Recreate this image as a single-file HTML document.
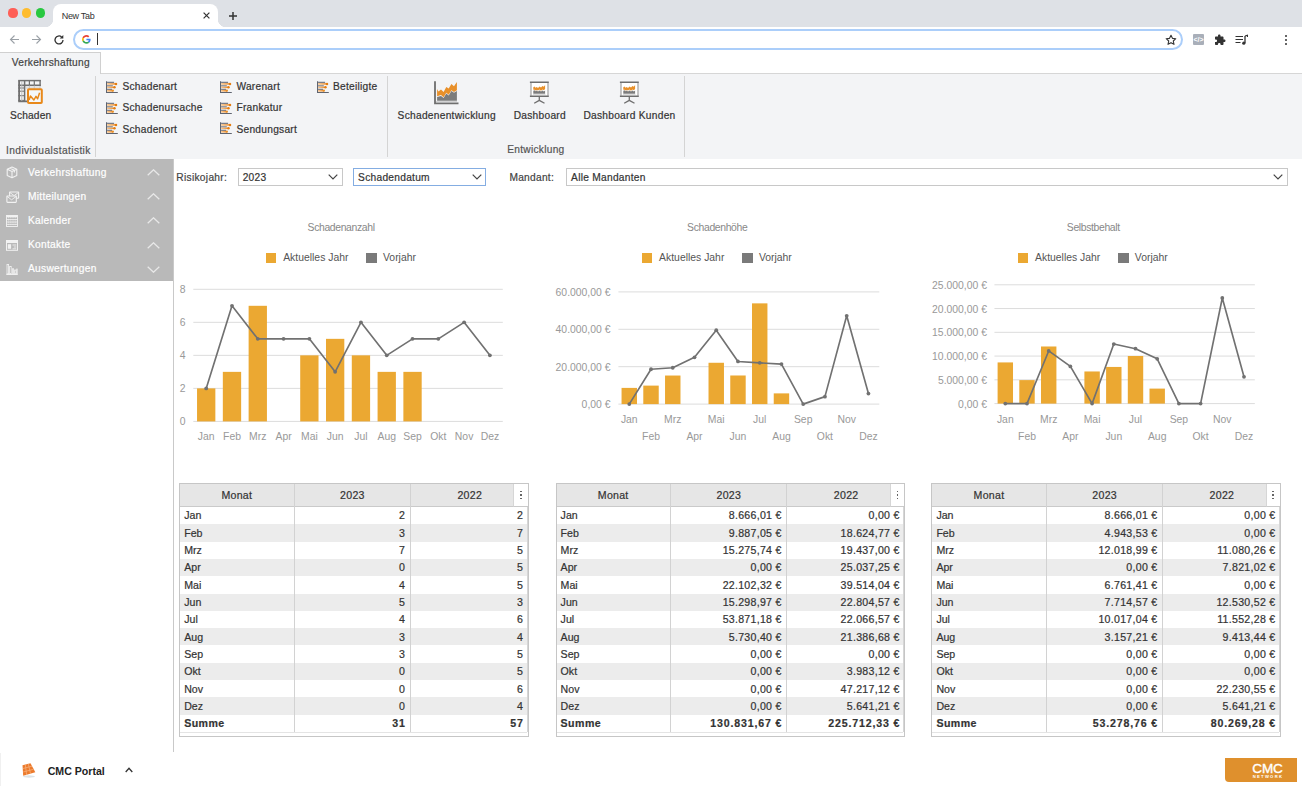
<!DOCTYPE html>
<html><head><meta charset="utf-8"><title>CMC Portal</title>
<style>
*{box-sizing:border-box;margin:0;padding:0}
html,body{width:1302px;height:788px;overflow:hidden;background:#fff;font-family:"Liberation Sans", sans-serif;}
.a{position:absolute;white-space:nowrap}
.ui{font-size:10.2px;letter-spacing:0.27px;color:#333;-webkit-text-stroke:0.2px currentColor}
</style></head>
<body>
<div class="a" style="left:0;top:0;width:1302px;height:27px;background:#dee1e6"></div>
<div class="a" style="left:8.4px;top:8.4px;width:9.2px;height:9.2px;border-radius:50%;background:#fe5f57"></div>
<div class="a" style="left:22.1px;top:8.4px;width:9.2px;height:9.2px;border-radius:50%;background:#febc2e"></div>
<div class="a" style="left:35.8px;top:8.4px;width:9.2px;height:9.2px;border-radius:50%;background:#28c840"></div>
<div class="a" style="left:53px;top:4px;width:165px;height:24px;background:#fff;border-radius:8px 8px 0 0"></div>
<div class="a" style="left:45px;top:19px;width:8px;height:8px;background:radial-gradient(circle at 0 0,#dee1e6 8px,#fff 8.5px)"></div>
<div class="a" style="left:218px;top:19px;width:8px;height:8px;background:radial-gradient(circle at 100% 0,#dee1e6 8px,#fff 8.5px)"></div>
<div class="a" style="left:61.7px;top:9.6px;font-size:9px;letter-spacing:-0.3px;line-height:12px;color:#333">New Tab</div>
<svg class="a" style="left:203.2px;top:12.3px" width="7" height="7" viewBox="0 0 7 7"><path d="M0.6 0.6L6.4 6.4M6.4 0.6L0.6 6.4" stroke="#333" stroke-width="1.2"/></svg>
<svg class="a" style="left:228.6px;top:11.8px" width="8" height="8" viewBox="0 0 8 8"><path d="M4 0V8M0 4H8" stroke="#333" stroke-width="1.5"/></svg>
<div class="a" style="left:0;top:27px;width:1302px;height:25px;background:#fff"></div>
<div class="a" style="left:0;top:51.5px;width:1302px;height:1px;background:#ececec"></div>
<svg class="a" style="left:9px;top:34px" width="11" height="11" viewBox="0 0 11 11"><path d="M10 5.5H1.5M5.5 1.5L1.5 5.5L5.5 9.5" stroke="#9aa0a6" stroke-width="1.1" fill="none"/></svg>
<svg class="a" style="left:31px;top:34px" width="11" height="11" viewBox="0 0 11 11"><path d="M1 5.5H9.5M5.5 1.5L9.5 5.5L5.5 9.5" stroke="#9aa0a6" stroke-width="1.1" fill="none"/></svg>
<svg class="a" style="left:53px;top:33.5px" width="12" height="12" viewBox="0 0 12 12"><path d="M10 6A4 4 0 1 1 8.6 2.9" stroke="#333" stroke-width="1.3" fill="none"/><path d="M10.3 1V4.6H6.7Z" fill="#333"/></svg>
<div class="a" style="left:73.2px;top:29.3px;width:1110.3px;height:20.6px;border:2px solid #abcefa;border-radius:10.5px;background:#fff"></div>
<svg class="a" style="left:81.8px;top:35px" width="8.8" height="8.8" viewBox="0 0 48 48">
<path fill="#EA4335" d="M24 9.5c3.54 0 6.71 1.22 9.21 3.6l6.85-6.85C35.9 2.38 30.47 0 24 0 14.62 0 6.51 5.38 2.56 13.22l7.98 6.19C12.43 13.72 17.74 9.5 24 9.5z"/>
<path fill="#4285F4" d="M46.98 24.55c0-1.57-.15-3.09-.38-4.55H24v9.02h12.94c-.58 2.96-2.26 5.48-4.78 7.18l7.73 6c4.51-4.18 7.09-10.36 7.09-17.65z"/>
<path fill="#FBBC05" d="M10.53 28.59c-.48-1.45-.76-2.99-.76-4.59s.27-3.14.76-4.59l-7.98-6.19C.92 16.46 0 20.12 0 24c0 3.88.92 7.54 2.56 10.78l7.97-6.19z"/>
<path fill="#34A853" d="M24 48c6.48 0 11.93-2.13 15.89-5.81l-7.73-6c-2.15 1.45-4.92 2.3-8.16 2.3-6.26 0-11.57-4.22-13.47-9.91l-7.98 6.19C6.51 42.62 14.62 48 24 48z"/>
</svg>
<div class="a" style="left:97px;top:33px;width:1.2px;height:11.7px;background:#333"></div>
<svg class="a" style="left:1165px;top:34px" width="12" height="12" viewBox="0 0 24 24"><path d="M12 2.5l2.9 6.2 6.7.7-5 4.6 1.4 6.7L12 17.3 6 20.7l1.4-6.7-5-4.6 6.7-.7z" fill="none" stroke="#333" stroke-width="2.2" stroke-linejoin="round"/></svg>
<div class="a" style="left:1192.8px;top:34px;width:11px;height:11px;background:#a9afb9;border-radius:1px"></div>
<div class="a" style="left:1193px;top:34.5px;width:11px;font-size:7px;line-height:10px;color:#fff;text-align:center;font-weight:bold">&lt;/&gt;</div>
<svg class="a" style="left:1214px;top:33.5px" width="12" height="12" viewBox="0 0 24 24"><path fill="#333" d="M20.5 11H19V7c0-1.1-.9-2-2-2h-4V3.5C13 2.12 11.88 1 10.5 1S8 2.12 8 3.5V5H4c-1.1 0-2 .9-2 2v3.8h1.5c1.49 0 2.7 1.21 2.7 2.7s-1.21 2.7-2.7 2.7H2V20c0 1.1.9 2 2 2h3.8v-1.5c0-1.49 1.21-2.7 2.7-2.7 1.49 0 2.7 1.21 2.7 2.7V22H17c1.1 0 2-.9 2-2v-4h1.5c1.38 0 2.5-1.12 2.5-2.5S21.88 11 20.5 11z"/></svg>
<svg class="a" style="left:1235px;top:33.5px" width="13" height="12" viewBox="0 0 13 12"><path d="M0.5 2.5H8M0.5 5.5H8M0.5 8.5H5.5" stroke="#333" stroke-width="1.2"/><path d="M10 2V9" stroke="#333" stroke-width="1.3"/><circle cx="8.8" cy="9.2" r="1.6" fill="#333"/><path d="M10 2L12.5 1.2V3" stroke="#333" stroke-width="1.2" fill="none"/></svg>
<div class="a" style="left:1284.8px;top:34.5px;width:2.2px;height:2.2px;border-radius:50%;background:#333"></div>
<div class="a" style="left:1284.8px;top:38.5px;width:2.2px;height:2.2px;border-radius:50%;background:#333"></div>
<div class="a" style="left:1284.8px;top:42.5px;width:2.2px;height:2.2px;border-radius:50%;background:#333"></div>
<div class="a" style="left:0;top:52px;width:1302px;height:21px;background:#fff"></div>
<div class="a" style="left:0;top:73px;width:1302px;height:85.5px;background:#f3f4f6;border-top:1px solid #d6d6d6"></div>
<div class="a" style="left:0;top:51.8px;width:101px;height:22px;background:#f3f4f6;border-right:1px solid #d0d0d0;border-top:1px solid #d0d0d0"></div>
<div class="a ui" style="left:11.7px;top:56.2px;line-height:14px;color:#444">Verkehrshaftung</div>
<div class="a" style="left:95px;top:76px;width:1px;height:81px;background:#d4d4d4"></div>
<div class="a" style="left:387px;top:76px;width:1px;height:81px;background:#d4d4d4"></div>
<div class="a" style="left:684px;top:76px;width:1px;height:81px;background:#d4d4d4"></div>
<svg class="a" style="left:14px;top:76px" width="34" height="32" viewBox="0 0 34 32">
<g stroke="#707070" fill="none">
<path d="M5.1 4.4V25.3H13" stroke-width="1.8"/>
<path d="M4.2 4.6H26.8" stroke-width="1.5"/>
<path d="M4.2 9.3H26.8" stroke-width="1.6"/>
<path d="M26.1 4V10" stroke-width="1.4"/>
<path d="M10.6 4V25.3" stroke-width="1.5"/>
<path d="M15.4 4V9.5M20.3 4V9.5" stroke-width="1.2"/>
<path d="M4.2 12H11M4.2 15.2H11M4.2 19.7H11M4.2 24.4H11" stroke-width="1"/>
</g>
<path d="M7.8 5V25" stroke="#bbb" stroke-width="0.9"/>
<path d="M11 12H26M15.4 9.5V13M20.3 9.5V13M26.1 10V13" stroke="#c4c4c4" stroke-width="0.8"/>
<rect x="14" y="13.2" width="13.8" height="13.8" fill="#f4f8fb" stroke="#e8891b" stroke-width="2" rx="0.8"/>
<path d="M15.2 24L16.4 19.9L19.9 24L22 20.3L23.6 22.8L25.6 16.7" fill="none" stroke="#e8891b" stroke-width="1.5" stroke-linejoin="round"/>
</svg>
<div class="a ui" style="left:10px;top:109px;line-height:14px;letter-spacing:0.15px;color:#333">Schaden</div>
<div class="a ui" style="left:6px;top:144.3px;line-height:14px;letter-spacing:0.41px;color:#555">Individualstatistik</div>
<svg class="a" style="left:105.0px;top:79.96000000000001px" width="14" height="14" viewBox="0 0 14 14">
<defs><linearGradient id="og" x1="0" x2="1"><stop offset="0" stop-color="#f7c58d"/><stop offset="1" stop-color="#e88a2a"/></linearGradient></defs>
<path d="M1.55 1.3V12.55H12.8" fill="none" stroke="#5f6470" stroke-width="1.1"/>
<rect x="2.1" y="1.8" width="7" height="1" fill="#5a6170"/>
<rect x="2.1" y="5.4" width="5.7" height="1" fill="#5a6170"/>
<rect x="2.1" y="8.8" width="4.9" height="1" fill="#5a6170"/>
<rect x="2.1" y="3.1" width="8.9" height="1.6" fill="url(#og)"/><circle cx="11" cy="3.9" r="1.25" fill="#e37d12"/>
<rect x="2.1" y="6.6" width="7.4" height="1.5" fill="url(#og)"/><circle cx="9.5" cy="7.3" r="1.2" fill="#e37d12"/>
<rect x="2.1" y="9.9" width="5.9" height="1.7" fill="url(#og)"/><circle cx="7.9" cy="10.7" r="1.1" fill="#e8902a"/>
</svg>
<div class="a ui" style="left:122.4px;top:80.30px;line-height:14px;color:#333">Schadenart</div>
<svg class="a" style="left:105.0px;top:100.62px" width="14" height="14" viewBox="0 0 14 14">
<defs><linearGradient id="og" x1="0" x2="1"><stop offset="0" stop-color="#f7c58d"/><stop offset="1" stop-color="#e88a2a"/></linearGradient></defs>
<path d="M1.55 1.3V12.55H12.8" fill="none" stroke="#5f6470" stroke-width="1.1"/>
<rect x="2.1" y="1.8" width="7" height="1" fill="#5a6170"/>
<rect x="2.1" y="5.4" width="5.7" height="1" fill="#5a6170"/>
<rect x="2.1" y="8.8" width="4.9" height="1" fill="#5a6170"/>
<rect x="2.1" y="3.1" width="8.9" height="1.6" fill="url(#og)"/><circle cx="11" cy="3.9" r="1.25" fill="#e37d12"/>
<rect x="2.1" y="6.6" width="7.4" height="1.5" fill="url(#og)"/><circle cx="9.5" cy="7.3" r="1.2" fill="#e37d12"/>
<rect x="2.1" y="9.9" width="5.9" height="1.7" fill="url(#og)"/><circle cx="7.9" cy="10.7" r="1.1" fill="#e8902a"/>
</svg>
<div class="a ui" style="left:122.4px;top:101.10px;line-height:14px;color:#333">Schadenursache</div>
<svg class="a" style="left:105.0px;top:121.46px" width="14" height="14" viewBox="0 0 14 14">
<defs><linearGradient id="og" x1="0" x2="1"><stop offset="0" stop-color="#f7c58d"/><stop offset="1" stop-color="#e88a2a"/></linearGradient></defs>
<path d="M1.55 1.3V12.55H12.8" fill="none" stroke="#5f6470" stroke-width="1.1"/>
<rect x="2.1" y="1.8" width="7" height="1" fill="#5a6170"/>
<rect x="2.1" y="5.4" width="5.7" height="1" fill="#5a6170"/>
<rect x="2.1" y="8.8" width="4.9" height="1" fill="#5a6170"/>
<rect x="2.1" y="3.1" width="8.9" height="1.6" fill="url(#og)"/><circle cx="11" cy="3.9" r="1.25" fill="#e37d12"/>
<rect x="2.1" y="6.6" width="7.4" height="1.5" fill="url(#og)"/><circle cx="9.5" cy="7.3" r="1.2" fill="#e37d12"/>
<rect x="2.1" y="9.9" width="5.9" height="1.7" fill="url(#og)"/><circle cx="7.9" cy="10.7" r="1.1" fill="#e8902a"/>
</svg>
<div class="a ui" style="left:122.4px;top:122.50px;line-height:14px;color:#333">Schadenort</div>
<svg class="a" style="left:219.2px;top:79.96000000000001px" width="14" height="14" viewBox="0 0 14 14">
<defs><linearGradient id="og" x1="0" x2="1"><stop offset="0" stop-color="#f7c58d"/><stop offset="1" stop-color="#e88a2a"/></linearGradient></defs>
<path d="M1.55 1.3V12.55H12.8" fill="none" stroke="#5f6470" stroke-width="1.1"/>
<rect x="2.1" y="1.8" width="7" height="1" fill="#5a6170"/>
<rect x="2.1" y="5.4" width="5.7" height="1" fill="#5a6170"/>
<rect x="2.1" y="8.8" width="4.9" height="1" fill="#5a6170"/>
<rect x="2.1" y="3.1" width="8.9" height="1.6" fill="url(#og)"/><circle cx="11" cy="3.9" r="1.25" fill="#e37d12"/>
<rect x="2.1" y="6.6" width="7.4" height="1.5" fill="url(#og)"/><circle cx="9.5" cy="7.3" r="1.2" fill="#e37d12"/>
<rect x="2.1" y="9.9" width="5.9" height="1.7" fill="url(#og)"/><circle cx="7.9" cy="10.7" r="1.1" fill="#e8902a"/>
</svg>
<div class="a ui" style="left:236.4px;top:80.30px;line-height:14px;color:#333">Warenart</div>
<svg class="a" style="left:219.2px;top:100.62px" width="14" height="14" viewBox="0 0 14 14">
<defs><linearGradient id="og" x1="0" x2="1"><stop offset="0" stop-color="#f7c58d"/><stop offset="1" stop-color="#e88a2a"/></linearGradient></defs>
<path d="M1.55 1.3V12.55H12.8" fill="none" stroke="#5f6470" stroke-width="1.1"/>
<rect x="2.1" y="1.8" width="7" height="1" fill="#5a6170"/>
<rect x="2.1" y="5.4" width="5.7" height="1" fill="#5a6170"/>
<rect x="2.1" y="8.8" width="4.9" height="1" fill="#5a6170"/>
<rect x="2.1" y="3.1" width="8.9" height="1.6" fill="url(#og)"/><circle cx="11" cy="3.9" r="1.25" fill="#e37d12"/>
<rect x="2.1" y="6.6" width="7.4" height="1.5" fill="url(#og)"/><circle cx="9.5" cy="7.3" r="1.2" fill="#e37d12"/>
<rect x="2.1" y="9.9" width="5.9" height="1.7" fill="url(#og)"/><circle cx="7.9" cy="10.7" r="1.1" fill="#e8902a"/>
</svg>
<div class="a ui" style="left:236.4px;top:101.10px;line-height:14px;color:#333">Frankatur</div>
<svg class="a" style="left:219.2px;top:121.46px" width="14" height="14" viewBox="0 0 14 14">
<defs><linearGradient id="og" x1="0" x2="1"><stop offset="0" stop-color="#f7c58d"/><stop offset="1" stop-color="#e88a2a"/></linearGradient></defs>
<path d="M1.55 1.3V12.55H12.8" fill="none" stroke="#5f6470" stroke-width="1.1"/>
<rect x="2.1" y="1.8" width="7" height="1" fill="#5a6170"/>
<rect x="2.1" y="5.4" width="5.7" height="1" fill="#5a6170"/>
<rect x="2.1" y="8.8" width="4.9" height="1" fill="#5a6170"/>
<rect x="2.1" y="3.1" width="8.9" height="1.6" fill="url(#og)"/><circle cx="11" cy="3.9" r="1.25" fill="#e37d12"/>
<rect x="2.1" y="6.6" width="7.4" height="1.5" fill="url(#og)"/><circle cx="9.5" cy="7.3" r="1.2" fill="#e37d12"/>
<rect x="2.1" y="9.9" width="5.9" height="1.7" fill="url(#og)"/><circle cx="7.9" cy="10.7" r="1.1" fill="#e8902a"/>
</svg>
<div class="a ui" style="left:236.4px;top:122.50px;line-height:14px;color:#333">Sendungsart</div>
<svg class="a" style="left:315.5px;top:79.96000000000001px" width="14" height="14" viewBox="0 0 14 14">
<defs><linearGradient id="og" x1="0" x2="1"><stop offset="0" stop-color="#f7c58d"/><stop offset="1" stop-color="#e88a2a"/></linearGradient></defs>
<path d="M1.55 1.3V12.55H12.8" fill="none" stroke="#5f6470" stroke-width="1.1"/>
<rect x="2.1" y="1.8" width="7" height="1" fill="#5a6170"/>
<rect x="2.1" y="5.4" width="5.7" height="1" fill="#5a6170"/>
<rect x="2.1" y="8.8" width="4.9" height="1" fill="#5a6170"/>
<rect x="2.1" y="3.1" width="8.9" height="1.6" fill="url(#og)"/><circle cx="11" cy="3.9" r="1.25" fill="#e37d12"/>
<rect x="2.1" y="6.6" width="7.4" height="1.5" fill="url(#og)"/><circle cx="9.5" cy="7.3" r="1.2" fill="#e37d12"/>
<rect x="2.1" y="9.9" width="5.9" height="1.7" fill="url(#og)"/><circle cx="7.9" cy="10.7" r="1.1" fill="#e8902a"/>
</svg>
<div class="a ui" style="left:332.9px;top:80.30px;line-height:14px;color:#333">Beteiligte</div>
<svg class="a" style="left:428px;top:76px" width="40" height="32" viewBox="0 0 40 32">
<path d="M9.1 24.8V13L10.4 15.4L13 13.6L15.6 15.9L18.3 11L20.7 12.4L23.4 8.1L26 10.2L28.9 5.9V14.2L26 15.9L23.4 14.2L20.7 18.7L18.3 16.7L15.6 21.2L13 19.1L9.1 20.3Z" fill="#e8902a"/>
<path d="M9.1 24.8V21.1L13 19.9L15.6 22L18.3 17.5L20.7 19.5L23.4 15L26 16.7L28.9 15V24.8Z" fill="#7c7c7c"/>
<path d="M7 5.3V27.3H30.5" fill="none" stroke="#6e6e6e" stroke-width="1.8"/>
<path d="M8 25.6H29" stroke="#cfcfcf" stroke-width="1"/>
</svg>
<svg class="a" style="left:524px;top:76px" width="32" height="32" viewBox="0 0 32 32">
<rect x="7" y="6.5" width="17" height="13.2" fill="#fff"/>
<path d="M7 6.6V19.8M24 6.6V19.8" stroke="#a9a9a9" stroke-width="1.3"/>
<path d="M5.9 6.3H24.8M5.9 20.2H24.8" stroke="#6e6e6e" stroke-width="1.4"/>
<path d="M9.3 13.8V11.2L10.5 10.6L11.5 11.8L12.8 10.9L14 12L15.5 10.4L17 11.6L18.5 10L19.8 10.8L21.1 8.9V13L19.8 14.2L18.5 13.4L17 14.8L15.5 13.6L14 14.6L12.8 13.9L11.5 14.5L10.5 13.8Z" fill="#e8902a"/>
<path d="M9.3 17.7V14.8L10.5 14.2L11.5 15.2L12.8 14.6L14 15.4L15.5 14.4L17 15.5L18.5 14.6L19.8 15.6L21.1 14.5V17.7Z" fill="#7c7c7c"/>
<path d="M9 18.4H21.5" stroke="#d0d0d0" stroke-width="0.8"/>
<path d="M15.3 21V24.6M15.3 24.4L10.2 27.3M15.3 24.4L20.5 27.3" stroke="#6e6e6e" stroke-width="1.3" fill="none"/>
</svg>
<svg class="a" style="left:613.5px;top:76px" width="32" height="32" viewBox="0 0 32 32">
<rect x="7" y="6.5" width="17" height="13.2" fill="#fff"/>
<path d="M7 6.6V19.8M24 6.6V19.8" stroke="#a9a9a9" stroke-width="1.3"/>
<path d="M5.9 6.3H24.8M5.9 20.2H24.8" stroke="#6e6e6e" stroke-width="1.4"/>
<path d="M9.3 13.8V11.2L10.5 10.6L11.5 11.8L12.8 10.9L14 12L15.5 10.4L17 11.6L18.5 10L19.8 10.8L21.1 8.9V13L19.8 14.2L18.5 13.4L17 14.8L15.5 13.6L14 14.6L12.8 13.9L11.5 14.5L10.5 13.8Z" fill="#e8902a"/>
<path d="M9.3 17.7V14.8L10.5 14.2L11.5 15.2L12.8 14.6L14 15.4L15.5 14.4L17 15.5L18.5 14.6L19.8 15.6L21.1 14.5V17.7Z" fill="#7c7c7c"/>
<path d="M9 18.4H21.5" stroke="#d0d0d0" stroke-width="0.8"/>
<path d="M15.3 21V24.6M15.3 24.4L10.2 27.3M15.3 24.4L20.5 27.3" stroke="#6e6e6e" stroke-width="1.3" fill="none"/>
</svg>
<div class="a ui" style="left:397.6px;top:109px;line-height:14px;color:#333">Schadenentwicklung</div>
<div class="a ui" style="left:513.7px;top:109px;line-height:14px;color:#333">Dashboard</div>
<div class="a ui" style="left:583.4px;top:109px;line-height:14px;color:#333">Dashboard Kunden</div>
<div class="a ui" style="left:507.2px;top:143.2px;line-height:14px;color:#555">Entwicklung</div>
<div class="a" style="left:0;top:158.7px;width:173.5px;height:122.2px;background:#b9b9b9"></div>
<div class="a" style="left:173px;top:158.7px;width:1px;height:593px;background:#c9c9c9"></div>
<div class="a ui" style="left:27.9px;top:165.6px;line-height:14px;color:#fff;letter-spacing:0.31px">Verkehrshaftung</div>
<svg class="a" style="left:147px;top:168.7px" width="13" height="7" viewBox="0 0 13 7"><path d="M0.7 6.3L6.5 0.8L12.3 6.3" fill="none" stroke="#e8e8e8" stroke-width="1.3"/></svg>
<div class="a ui" style="left:27.9px;top:190.0px;line-height:14px;color:#fff;letter-spacing:0.31px">Mitteilungen</div>
<svg class="a" style="left:147px;top:193.1px" width="13" height="7" viewBox="0 0 13 7"><path d="M0.7 6.3L6.5 0.8L12.3 6.3" fill="none" stroke="#e8e8e8" stroke-width="1.3"/></svg>
<div class="a ui" style="left:27.9px;top:214.1px;line-height:14px;color:#fff;letter-spacing:0.31px">Kalender</div>
<svg class="a" style="left:147px;top:217.2px" width="13" height="7" viewBox="0 0 13 7"><path d="M0.7 6.3L6.5 0.8L12.3 6.3" fill="none" stroke="#e8e8e8" stroke-width="1.3"/></svg>
<div class="a ui" style="left:27.9px;top:238.4px;line-height:14px;color:#fff;letter-spacing:0.31px">Kontakte</div>
<svg class="a" style="left:147px;top:241.5px" width="13" height="7" viewBox="0 0 13 7"><path d="M0.7 6.3L6.5 0.8L12.3 6.3" fill="none" stroke="#e8e8e8" stroke-width="1.3"/></svg>
<div class="a ui" style="left:27.9px;top:262.4px;line-height:14px;color:#fff;letter-spacing:0.31px">Auswertungen</div>
<svg class="a" style="left:147px;top:265.5px" width="13" height="7" viewBox="0 0 13 7"><path d="M0.7 0.7L6.5 6.2L12.3 0.7" fill="none" stroke="#e8e8e8" stroke-width="1.3"/></svg>
<svg class="a" style="left:6px;top:166px" width="12" height="13" viewBox="0 0 12 13"><path d="M6 1L10.8 3.2V9.6L6 11.8L1.2 9.6V3.2Z M1.2 3.2L6 5.4L10.8 3.2 M6 5.4V11.8 M3.6 2.1L8.4 4.3V6.5" fill="none" stroke="#f2f2f2" stroke-width="1.1" stroke-linejoin="round"/></svg>
<svg class="a" style="left:5.5px;top:190.5px" width="14" height="12" viewBox="0 0 14 12"><rect x="3.6" y="1" width="9" height="6.3" rx="0.6" fill="none" stroke="#f2f2f2" stroke-width="1.1"/><path d="M3.6 1.3L8.1 4.6L12.6 1.3" fill="none" stroke="#f2f2f2" stroke-width="0.9"/><rect x="0.9" y="5" width="9.4" height="6.4" rx="0.6" fill="#b9b9b9" stroke="#f2f2f2" stroke-width="1.1"/><path d="M0.9 5.3L5.6 8.8L10.3 5.3" fill="none" stroke="#f2f2f2" stroke-width="0.9"/></svg>
<svg class="a" style="left:6.3px;top:215px" width="12" height="12" viewBox="0 0 12 12"><rect x="0.5" y="0.5" width="11" height="11" fill="none" stroke="#f2f2f2" stroke-width="0.9"/><rect x="0.5" y="0.3" width="11" height="2" fill="#f2f2f2"/><path d="M0.5 4.6H11.5M0.5 7H11.5M0.5 9.3H11.5" stroke="#f2f2f2" stroke-width="0.9"/><path d="M2.6 2V11.5M4.8 2V11.5M7 2V11.5M9.2 2V11.5" stroke="#f2f2f2" stroke-width="0.6" stroke-dasharray="1.3 1"/></svg>
<svg class="a" style="left:6px;top:240px" width="12" height="11" viewBox="0 0 12 11"><rect x="0.5" y="0.5" width="11" height="9.8" fill="none" stroke="#f2f2f2" stroke-width="1"/><rect x="0.5" y="0.5" width="11" height="2.5" fill="#f2f2f2"/><rect x="1.8" y="4.2" width="3.3" height="4.6" fill="#f2f2f2"/><path d="M6.5 5H10.3M7.8 7H10.3M6.5 8.8H10.3" stroke="#f2f2f2" stroke-width="0.9"/></svg>
<svg class="a" style="left:6px;top:263px" width="12" height="12" viewBox="0 0 12 12"><path d="M0.3 11.4H11.8" stroke="#f2f2f2" stroke-width="1.1"/><rect x="1" y="1.4" width="1.6" height="9.6" fill="none" stroke="#f2f2f2" stroke-width="0.8"/><rect x="3.6" y="3.5" width="1.6" height="7.5" fill="none" stroke="#f2f2f2" stroke-width="0.8"/><rect x="6.2" y="5.2" width="1.6" height="5.8" fill="#f2f2f2"/><rect x="8.6" y="7" width="1.4" height="4" fill="none" stroke="#f2f2f2" stroke-width="0.8"/><rect x="10.3" y="5.6" width="1.3" height="5.4" fill="#f2f2f2"/></svg>
<div class="a ui" style="left:176.3px;top:171.1px;line-height:14px;color:#444;letter-spacing:0.3px">Risikojahr:</div>
<div class="a" style="left:237.9px;top:168.4px;width:104.99999999999997px;height:17.2px;border:1px solid #c8c8c8;background:#fff"></div><div class="a ui" style="left:242.70000000000002px;top:171.1px;line-height:14px;color:#333">2023</div><svg class="a" style="left:328.4px;top:174px" width="10" height="6" viewBox="0 0 10 6"><path d="M0.7 0.7L5 5L9.3 0.7" fill="none" stroke="#444" stroke-width="1.2"/></svg>
<div class="a" style="left:353.3px;top:168.4px;width:132.8px;height:17.2px;border:1px solid #84ade2;background:#fff"></div><div class="a ui" style="left:358.1px;top:171.1px;line-height:14px;color:#333">Schadendatum</div><svg class="a" style="left:471.6px;top:174px" width="10" height="6" viewBox="0 0 10 6"><path d="M0.7 0.7L5 5L9.3 0.7" fill="none" stroke="#444" stroke-width="1.2"/></svg>
<div class="a ui" style="left:509.4px;top:171px;line-height:14px;color:#444">Mandant:</div>
<div class="a" style="left:566.3px;top:168.4px;width:721.5px;height:17.2px;border:1px solid #c8c8c8;background:#fff"></div><div class="a ui" style="left:571.0999999999999px;top:171.1px;line-height:14px;color:#333">Alle Mandanten</div><svg class="a" style="left:1273.3px;top:174px" width="10" height="6" viewBox="0 0 10 6"><path d="M0.7 0.7L5 5L9.3 0.7" fill="none" stroke="#444" stroke-width="1.2"/></svg>
<div class="a" style="left:241.10000000000002px;top:222px;width:200px;text-align:center;font-size:10.4px;line-height:12px;color:#888;letter-spacing:-0.35px">Schadenanzahl</div>
<div class="a" style="left:265.9px;top:252.9px;width:10px;height:10px;background:#eba832"></div>
<div class="a" style="left:283.2px;top:252.3px;font-size:10.4px;line-height:12px;color:#555">Aktuelles Jahr</div>
<div class="a" style="left:366.4px;top:252.9px;width:10.5px;height:10px;background:#7a7a7a"></div>
<div class="a" style="left:383.0px;top:252.3px;font-size:10.4px;line-height:12px;color:#555">Vorjahr</div>
<div class="a" style="left:35.5px;top:415.60px;width:150px;text-align:right;font-size:10.4px;line-height:12px;color:#999">0</div>
<div class="a" style="left:35.5px;top:382.57px;width:150px;text-align:right;font-size:10.4px;line-height:12px;color:#999">2</div>
<div class="a" style="left:35.5px;top:349.55px;width:150px;text-align:right;font-size:10.4px;line-height:12px;color:#999">4</div>
<div class="a" style="left:35.5px;top:316.52px;width:150px;text-align:right;font-size:10.4px;line-height:12px;color:#999">6</div>
<div class="a" style="left:35.5px;top:283.50px;width:150px;text-align:right;font-size:10.4px;line-height:12px;color:#999">8</div>
<svg class="a" style="left:0;top:0" width="1302" height="788">
<line x1="193.3" y1="421.40" x2="502.8" y2="421.40" stroke="#dcdcdc" stroke-width="1"/>
<line x1="193.3" y1="388.38" x2="502.8" y2="388.38" stroke="#dcdcdc" stroke-width="1"/>
<line x1="193.3" y1="355.35" x2="502.8" y2="355.35" stroke="#dcdcdc" stroke-width="1"/>
<line x1="193.3" y1="322.32" x2="502.8" y2="322.32" stroke="#dcdcdc" stroke-width="1"/>
<line x1="193.3" y1="289.30" x2="502.8" y2="289.30" stroke="#dcdcdc" stroke-width="1"/>
<rect x="197.04" y="388.38" width="18.31" height="33.02" fill="#eba832"/>
<rect x="222.83" y="371.86" width="18.31" height="49.54" fill="#eba832"/>
<rect x="248.62" y="305.81" width="18.31" height="115.59" fill="#eba832"/>
<rect x="300.21" y="355.35" width="18.31" height="66.05" fill="#eba832"/>
<rect x="326.00" y="338.84" width="18.31" height="82.56" fill="#eba832"/>
<rect x="351.79" y="355.35" width="18.31" height="66.05" fill="#eba832"/>
<rect x="377.58" y="371.86" width="18.31" height="49.54" fill="#eba832"/>
<rect x="403.37" y="371.86" width="18.31" height="49.54" fill="#eba832"/>
<polyline points="206.20,388.38 231.99,305.81 257.78,338.84 283.57,338.84 309.36,338.84 335.15,371.86 360.95,322.32 386.74,355.35 412.53,338.84 438.32,338.84 464.11,322.32 489.90,355.35" fill="none" stroke="#717171" stroke-width="1.65" stroke-linejoin="round"/>
<circle cx="206.20" cy="388.38" r="1.9" fill="#717171"/>
<circle cx="231.99" cy="305.81" r="1.9" fill="#717171"/>
<circle cx="257.78" cy="338.84" r="1.9" fill="#717171"/>
<circle cx="283.57" cy="338.84" r="1.9" fill="#717171"/>
<circle cx="309.36" cy="338.84" r="1.9" fill="#717171"/>
<circle cx="335.15" cy="371.86" r="1.9" fill="#717171"/>
<circle cx="360.95" cy="322.32" r="1.9" fill="#717171"/>
<circle cx="386.74" cy="355.35" r="1.9" fill="#717171"/>
<circle cx="412.53" cy="338.84" r="1.9" fill="#717171"/>
<circle cx="438.32" cy="338.84" r="1.9" fill="#717171"/>
<circle cx="464.11" cy="322.32" r="1.9" fill="#717171"/>
<circle cx="489.90" cy="355.35" r="1.9" fill="#717171"/>
</svg>
<div class="a" style="left:176.20px;top:431.2px;width:60px;text-align:center;font-size:10.4px;line-height:12px;color:#999">Jan</div>
<div class="a" style="left:201.99px;top:431.2px;width:60px;text-align:center;font-size:10.4px;line-height:12px;color:#999">Feb</div>
<div class="a" style="left:227.78px;top:431.2px;width:60px;text-align:center;font-size:10.4px;line-height:12px;color:#999">Mrz</div>
<div class="a" style="left:253.57px;top:431.2px;width:60px;text-align:center;font-size:10.4px;line-height:12px;color:#999">Apr</div>
<div class="a" style="left:279.36px;top:431.2px;width:60px;text-align:center;font-size:10.4px;line-height:12px;color:#999">Mai</div>
<div class="a" style="left:305.15px;top:431.2px;width:60px;text-align:center;font-size:10.4px;line-height:12px;color:#999">Jun</div>
<div class="a" style="left:330.95px;top:431.2px;width:60px;text-align:center;font-size:10.4px;line-height:12px;color:#999">Jul</div>
<div class="a" style="left:356.74px;top:431.2px;width:60px;text-align:center;font-size:10.4px;line-height:12px;color:#999">Aug</div>
<div class="a" style="left:382.53px;top:431.2px;width:60px;text-align:center;font-size:10.4px;line-height:12px;color:#999">Sep</div>
<div class="a" style="left:408.32px;top:431.2px;width:60px;text-align:center;font-size:10.4px;line-height:12px;color:#999">Okt</div>
<div class="a" style="left:434.11px;top:431.2px;width:60px;text-align:center;font-size:10.4px;line-height:12px;color:#999">Nov</div>
<div class="a" style="left:459.90px;top:431.2px;width:60px;text-align:center;font-size:10.4px;line-height:12px;color:#999">Dez</div>
<div class="a" style="left:617.25px;top:222px;width:200px;text-align:center;font-size:10.4px;line-height:12px;color:#888;letter-spacing:-0.35px">Schadenhöhe</div>
<div class="a" style="left:641.8px;top:252.9px;width:10px;height:10px;background:#eba832"></div>
<div class="a" style="left:659.0999999999999px;top:252.3px;font-size:10.4px;line-height:12px;color:#555">Aktuelles Jahr</div>
<div class="a" style="left:742.3px;top:252.9px;width:10.5px;height:10px;background:#7a7a7a"></div>
<div class="a" style="left:758.9px;top:252.3px;font-size:10.4px;line-height:12px;color:#555">Vorjahr</div>
<div class="a" style="left:460.5px;top:399.10px;width:150px;text-align:right;font-size:10.4px;line-height:12px;color:#999">0,00 €</div>
<div class="a" style="left:460.5px;top:361.70px;width:150px;text-align:right;font-size:10.4px;line-height:12px;color:#999">20.000,00 €</div>
<div class="a" style="left:460.5px;top:324.30px;width:150px;text-align:right;font-size:10.4px;line-height:12px;color:#999">40.000,00 €</div>
<div class="a" style="left:460.5px;top:286.90px;width:150px;text-align:right;font-size:10.4px;line-height:12px;color:#999">60.000,00 €</div>
<svg class="a" style="left:0;top:0" width="1302" height="788">
<line x1="618.4" y1="404.10" x2="879.3" y2="404.10" stroke="#dcdcdc" stroke-width="1"/>
<line x1="618.4" y1="366.70" x2="879.3" y2="366.70" stroke="#dcdcdc" stroke-width="1"/>
<line x1="618.4" y1="329.30" x2="879.3" y2="329.30" stroke="#dcdcdc" stroke-width="1"/>
<line x1="618.4" y1="291.90" x2="879.3" y2="291.90" stroke="#dcdcdc" stroke-width="1"/>
<rect x="621.55" y="387.89" width="15.44" height="16.21" fill="#eba832"/>
<rect x="643.29" y="385.61" width="15.44" height="18.49" fill="#eba832"/>
<rect x="665.04" y="375.53" width="15.44" height="28.57" fill="#eba832"/>
<rect x="708.52" y="362.77" width="15.44" height="41.33" fill="#eba832"/>
<rect x="730.26" y="375.49" width="15.44" height="28.61" fill="#eba832"/>
<rect x="752.00" y="303.36" width="15.44" height="100.74" fill="#eba832"/>
<rect x="773.74" y="393.38" width="15.44" height="10.72" fill="#eba832"/>
<polyline points="629.27,404.10 651.01,369.27 672.75,367.75 694.50,357.28 716.24,330.21 737.98,361.46 759.72,362.84 781.46,364.11 803.20,404.10 824.95,396.65 846.69,315.80 868.43,393.55" fill="none" stroke="#717171" stroke-width="1.65" stroke-linejoin="round"/>
<circle cx="629.27" cy="404.10" r="1.9" fill="#717171"/>
<circle cx="651.01" cy="369.27" r="1.9" fill="#717171"/>
<circle cx="672.75" cy="367.75" r="1.9" fill="#717171"/>
<circle cx="694.50" cy="357.28" r="1.9" fill="#717171"/>
<circle cx="716.24" cy="330.21" r="1.9" fill="#717171"/>
<circle cx="737.98" cy="361.46" r="1.9" fill="#717171"/>
<circle cx="759.72" cy="362.84" r="1.9" fill="#717171"/>
<circle cx="781.46" cy="364.11" r="1.9" fill="#717171"/>
<circle cx="803.20" cy="404.10" r="1.9" fill="#717171"/>
<circle cx="824.95" cy="396.65" r="1.9" fill="#717171"/>
<circle cx="846.69" cy="315.80" r="1.9" fill="#717171"/>
<circle cx="868.43" cy="393.55" r="1.9" fill="#717171"/>
</svg>
<div class="a" style="left:599.27px;top:413.9px;width:60px;text-align:center;font-size:10.4px;line-height:12px;color:#999">Jan</div>
<div class="a" style="left:621.01px;top:431.0px;width:60px;text-align:center;font-size:10.4px;line-height:12px;color:#999">Feb</div>
<div class="a" style="left:642.75px;top:413.9px;width:60px;text-align:center;font-size:10.4px;line-height:12px;color:#999">Mrz</div>
<div class="a" style="left:664.50px;top:431.0px;width:60px;text-align:center;font-size:10.4px;line-height:12px;color:#999">Apr</div>
<div class="a" style="left:686.24px;top:413.9px;width:60px;text-align:center;font-size:10.4px;line-height:12px;color:#999">Mai</div>
<div class="a" style="left:707.98px;top:431.0px;width:60px;text-align:center;font-size:10.4px;line-height:12px;color:#999">Jun</div>
<div class="a" style="left:729.72px;top:413.9px;width:60px;text-align:center;font-size:10.4px;line-height:12px;color:#999">Jul</div>
<div class="a" style="left:751.46px;top:431.0px;width:60px;text-align:center;font-size:10.4px;line-height:12px;color:#999">Aug</div>
<div class="a" style="left:773.20px;top:413.9px;width:60px;text-align:center;font-size:10.4px;line-height:12px;color:#999">Sep</div>
<div class="a" style="left:794.95px;top:431.0px;width:60px;text-align:center;font-size:10.4px;line-height:12px;color:#999">Okt</div>
<div class="a" style="left:816.69px;top:413.9px;width:60px;text-align:center;font-size:10.4px;line-height:12px;color:#999">Nov</div>
<div class="a" style="left:838.43px;top:431.0px;width:60px;text-align:center;font-size:10.4px;line-height:12px;color:#999">Dez</div>
<div class="a" style="left:993.3px;top:222px;width:200px;text-align:center;font-size:10.4px;line-height:12px;color:#888;letter-spacing:-0.35px">Selbstbehalt</div>
<div class="a" style="left:1017.7px;top:252.9px;width:10px;height:10px;background:#eba832"></div>
<div class="a" style="left:1035.0px;top:252.3px;font-size:10.4px;line-height:12px;color:#555">Aktuelles Jahr</div>
<div class="a" style="left:1118.2px;top:252.9px;width:10.5px;height:10px;background:#7a7a7a"></div>
<div class="a" style="left:1134.8px;top:252.3px;font-size:10.4px;line-height:12px;color:#555">Vorjahr</div>
<div class="a" style="left:837px;top:398.60px;width:150px;text-align:right;font-size:10.4px;line-height:12px;color:#999">0,00 €</div>
<div class="a" style="left:837px;top:374.84px;width:150px;text-align:right;font-size:10.4px;line-height:12px;color:#999">5.000,00 €</div>
<div class="a" style="left:837px;top:351.08px;width:150px;text-align:right;font-size:10.4px;line-height:12px;color:#999">10.000,00 €</div>
<div class="a" style="left:837px;top:327.32px;width:150px;text-align:right;font-size:10.4px;line-height:12px;color:#999">15.000,00 €</div>
<div class="a" style="left:837px;top:303.56px;width:150px;text-align:right;font-size:10.4px;line-height:12px;color:#999">20.000,00 €</div>
<div class="a" style="left:837px;top:279.80px;width:150px;text-align:right;font-size:10.4px;line-height:12px;color:#999">25.000,00 €</div>
<svg class="a" style="left:0;top:0" width="1302" height="788">
<line x1="994.45" y1="403.60" x2="1254.85" y2="403.60" stroke="#dcdcdc" stroke-width="1"/>
<line x1="994.45" y1="379.84" x2="1254.85" y2="379.84" stroke="#dcdcdc" stroke-width="1"/>
<line x1="994.45" y1="356.08" x2="1254.85" y2="356.08" stroke="#dcdcdc" stroke-width="1"/>
<line x1="994.45" y1="332.32" x2="1254.85" y2="332.32" stroke="#dcdcdc" stroke-width="1"/>
<line x1="994.45" y1="308.56" x2="1254.85" y2="308.56" stroke="#dcdcdc" stroke-width="1"/>
<line x1="994.45" y1="284.80" x2="1254.85" y2="284.80" stroke="#dcdcdc" stroke-width="1"/>
<rect x="997.60" y="362.42" width="15.41" height="41.18" fill="#eba832"/>
<rect x="1019.30" y="380.11" width="15.41" height="23.49" fill="#eba832"/>
<rect x="1041.00" y="346.49" width="15.41" height="57.11" fill="#eba832"/>
<rect x="1084.40" y="371.47" width="15.41" height="32.13" fill="#eba832"/>
<rect x="1106.10" y="366.94" width="15.41" height="36.66" fill="#eba832"/>
<rect x="1127.80" y="356.00" width="15.41" height="47.60" fill="#eba832"/>
<rect x="1149.50" y="388.60" width="15.41" height="15.00" fill="#eba832"/>
<polyline points="1005.30,403.60 1027.00,403.60 1048.70,350.95 1070.40,366.43 1092.10,403.60 1113.80,344.05 1135.50,348.70 1157.20,358.87 1178.90,403.60 1200.60,403.60 1222.30,297.96 1244.00,376.79" fill="none" stroke="#717171" stroke-width="1.65" stroke-linejoin="round"/>
<circle cx="1005.30" cy="403.60" r="1.9" fill="#717171"/>
<circle cx="1027.00" cy="403.60" r="1.9" fill="#717171"/>
<circle cx="1048.70" cy="350.95" r="1.9" fill="#717171"/>
<circle cx="1070.40" cy="366.43" r="1.9" fill="#717171"/>
<circle cx="1092.10" cy="403.60" r="1.9" fill="#717171"/>
<circle cx="1113.80" cy="344.05" r="1.9" fill="#717171"/>
<circle cx="1135.50" cy="348.70" r="1.9" fill="#717171"/>
<circle cx="1157.20" cy="358.87" r="1.9" fill="#717171"/>
<circle cx="1178.90" cy="403.60" r="1.9" fill="#717171"/>
<circle cx="1200.60" cy="403.60" r="1.9" fill="#717171"/>
<circle cx="1222.30" cy="297.96" r="1.9" fill="#717171"/>
<circle cx="1244.00" cy="376.79" r="1.9" fill="#717171"/>
</svg>
<div class="a" style="left:975.30px;top:413.9px;width:60px;text-align:center;font-size:10.4px;line-height:12px;color:#999">Jan</div>
<div class="a" style="left:997.00px;top:431.0px;width:60px;text-align:center;font-size:10.4px;line-height:12px;color:#999">Feb</div>
<div class="a" style="left:1018.70px;top:413.9px;width:60px;text-align:center;font-size:10.4px;line-height:12px;color:#999">Mrz</div>
<div class="a" style="left:1040.40px;top:431.0px;width:60px;text-align:center;font-size:10.4px;line-height:12px;color:#999">Apr</div>
<div class="a" style="left:1062.10px;top:413.9px;width:60px;text-align:center;font-size:10.4px;line-height:12px;color:#999">Mai</div>
<div class="a" style="left:1083.80px;top:431.0px;width:60px;text-align:center;font-size:10.4px;line-height:12px;color:#999">Jun</div>
<div class="a" style="left:1105.50px;top:413.9px;width:60px;text-align:center;font-size:10.4px;line-height:12px;color:#999">Jul</div>
<div class="a" style="left:1127.20px;top:431.0px;width:60px;text-align:center;font-size:10.4px;line-height:12px;color:#999">Aug</div>
<div class="a" style="left:1148.90px;top:413.9px;width:60px;text-align:center;font-size:10.4px;line-height:12px;color:#999">Sep</div>
<div class="a" style="left:1170.60px;top:431.0px;width:60px;text-align:center;font-size:10.4px;line-height:12px;color:#999">Okt</div>
<div class="a" style="left:1192.30px;top:413.9px;width:60px;text-align:center;font-size:10.4px;line-height:12px;color:#999">Nov</div>
<div class="a" style="left:1214.00px;top:431.0px;width:60px;text-align:center;font-size:10.4px;line-height:12px;color:#999">Dez</div>
<div class="a" style="left:179.2px;top:483.2px;width:349.8px;height:253.59999999999997px;border:1px solid #c6c6c6;background:#fff"></div>
<div class="a" style="left:180.2px;top:484.2px;width:333.2px;height:22.55000000000001px;background:#e6e6e6;border-bottom:1px solid #cacaca"></div>
<div class="a" style="left:513.4px;top:484.2px;width:14.600000000000023px;height:22.55000000000001px;background:#fff;border-left:1px solid #d6d6d6;border-bottom:1px solid #cacaca"></div>
<div class="a" style="left:520.1999999999999px;top:491.00px;width:1.6px;height:1.3px;background:#666"></div>
<div class="a" style="left:520.1999999999999px;top:494.30px;width:1.6px;height:1.3px;background:#666"></div>
<div class="a" style="left:520.1999999999999px;top:497.60px;width:1.6px;height:1.3px;background:#666"></div>
<div class="a ui" style="left:179.2px;top:488.2px;width:115.19999999999999px;text-align:center;font-size:10.6px;line-height:14px;color:#333">Monat</div>
<div class="a ui" style="left:294.4px;top:488.2px;width:116.10000000000002px;text-align:center;font-size:10.6px;line-height:14px;color:#333">2023</div>
<div class="a ui" style="left:410.5px;top:488.2px;width:118.5px;text-align:center;font-size:10.6px;line-height:14px;color:#333">2022</div>
<div class="a ui" style="left:184.2px;top:508.45px;font-size:10.6px;line-height:14px;color:#333;letter-spacing:0px;">Jan</div>
<div class="a ui" style="left:294.4px;top:508.45px;width:110.88px;text-align:right;font-size:10.6px;line-height:14px;color:#333;letter-spacing:0.28px;">2</div>
<div class="a ui" style="left:410.5px;top:508.45px;width:112.78px;text-align:right;font-size:10.6px;line-height:14px;color:#333;letter-spacing:0.28px;">2</div>
<div class="a" style="left:180.2px;top:524.31px;width:346.8px;height:17.31px;background:#ececec"></div>
<div class="a ui" style="left:184.2px;top:525.76px;font-size:10.6px;line-height:14px;color:#333;letter-spacing:0px;">Feb</div>
<div class="a ui" style="left:294.4px;top:525.76px;width:110.88px;text-align:right;font-size:10.6px;line-height:14px;color:#333;letter-spacing:0.28px;">3</div>
<div class="a ui" style="left:410.5px;top:525.76px;width:112.78px;text-align:right;font-size:10.6px;line-height:14px;color:#333;letter-spacing:0.28px;">7</div>
<div class="a ui" style="left:184.2px;top:543.07px;font-size:10.6px;line-height:14px;color:#333;letter-spacing:0px;">Mrz</div>
<div class="a ui" style="left:294.4px;top:543.07px;width:110.88px;text-align:right;font-size:10.6px;line-height:14px;color:#333;letter-spacing:0.28px;">7</div>
<div class="a ui" style="left:410.5px;top:543.07px;width:112.78px;text-align:right;font-size:10.6px;line-height:14px;color:#333;letter-spacing:0.28px;">5</div>
<div class="a" style="left:180.2px;top:558.93px;width:346.8px;height:17.31px;background:#ececec"></div>
<div class="a ui" style="left:184.2px;top:560.38px;font-size:10.6px;line-height:14px;color:#333;letter-spacing:0px;">Apr</div>
<div class="a ui" style="left:294.4px;top:560.38px;width:110.88px;text-align:right;font-size:10.6px;line-height:14px;color:#333;letter-spacing:0.28px;">0</div>
<div class="a ui" style="left:410.5px;top:560.38px;width:112.78px;text-align:right;font-size:10.6px;line-height:14px;color:#333;letter-spacing:0.28px;">5</div>
<div class="a ui" style="left:184.2px;top:577.69px;font-size:10.6px;line-height:14px;color:#333;letter-spacing:0px;">Mai</div>
<div class="a ui" style="left:294.4px;top:577.69px;width:110.88px;text-align:right;font-size:10.6px;line-height:14px;color:#333;letter-spacing:0.28px;">4</div>
<div class="a ui" style="left:410.5px;top:577.69px;width:112.78px;text-align:right;font-size:10.6px;line-height:14px;color:#333;letter-spacing:0.28px;">5</div>
<div class="a" style="left:180.2px;top:593.55px;width:346.8px;height:17.31px;background:#ececec"></div>
<div class="a ui" style="left:184.2px;top:595.00px;font-size:10.6px;line-height:14px;color:#333;letter-spacing:0px;">Jun</div>
<div class="a ui" style="left:294.4px;top:595.00px;width:110.88px;text-align:right;font-size:10.6px;line-height:14px;color:#333;letter-spacing:0.28px;">5</div>
<div class="a ui" style="left:410.5px;top:595.00px;width:112.78px;text-align:right;font-size:10.6px;line-height:14px;color:#333;letter-spacing:0.28px;">3</div>
<div class="a ui" style="left:184.2px;top:612.31px;font-size:10.6px;line-height:14px;color:#333;letter-spacing:0px;">Jul</div>
<div class="a ui" style="left:294.4px;top:612.31px;width:110.88px;text-align:right;font-size:10.6px;line-height:14px;color:#333;letter-spacing:0.28px;">4</div>
<div class="a ui" style="left:410.5px;top:612.31px;width:112.78px;text-align:right;font-size:10.6px;line-height:14px;color:#333;letter-spacing:0.28px;">6</div>
<div class="a" style="left:180.2px;top:628.17px;width:346.8px;height:17.31px;background:#ececec"></div>
<div class="a ui" style="left:184.2px;top:629.62px;font-size:10.6px;line-height:14px;color:#333;letter-spacing:0px;">Aug</div>
<div class="a ui" style="left:294.4px;top:629.62px;width:110.88px;text-align:right;font-size:10.6px;line-height:14px;color:#333;letter-spacing:0.28px;">3</div>
<div class="a ui" style="left:410.5px;top:629.62px;width:112.78px;text-align:right;font-size:10.6px;line-height:14px;color:#333;letter-spacing:0.28px;">4</div>
<div class="a ui" style="left:184.2px;top:646.93px;font-size:10.6px;line-height:14px;color:#333;letter-spacing:0px;">Sep</div>
<div class="a ui" style="left:294.4px;top:646.93px;width:110.88px;text-align:right;font-size:10.6px;line-height:14px;color:#333;letter-spacing:0.28px;">3</div>
<div class="a ui" style="left:410.5px;top:646.93px;width:112.78px;text-align:right;font-size:10.6px;line-height:14px;color:#333;letter-spacing:0.28px;">5</div>
<div class="a" style="left:180.2px;top:662.79px;width:346.8px;height:17.31px;background:#ececec"></div>
<div class="a ui" style="left:184.2px;top:664.24px;font-size:10.6px;line-height:14px;color:#333;letter-spacing:0px;">Okt</div>
<div class="a ui" style="left:294.4px;top:664.24px;width:110.88px;text-align:right;font-size:10.6px;line-height:14px;color:#333;letter-spacing:0.28px;">0</div>
<div class="a ui" style="left:410.5px;top:664.24px;width:112.78px;text-align:right;font-size:10.6px;line-height:14px;color:#333;letter-spacing:0.28px;">5</div>
<div class="a ui" style="left:184.2px;top:681.55px;font-size:10.6px;line-height:14px;color:#333;letter-spacing:0px;">Nov</div>
<div class="a ui" style="left:294.4px;top:681.55px;width:110.88px;text-align:right;font-size:10.6px;line-height:14px;color:#333;letter-spacing:0.28px;">0</div>
<div class="a ui" style="left:410.5px;top:681.55px;width:112.78px;text-align:right;font-size:10.6px;line-height:14px;color:#333;letter-spacing:0.28px;">6</div>
<div class="a" style="left:180.2px;top:697.41px;width:346.8px;height:17.31px;background:#ececec"></div>
<div class="a ui" style="left:184.2px;top:698.86px;font-size:10.6px;line-height:14px;color:#333;letter-spacing:0px;">Dez</div>
<div class="a ui" style="left:294.4px;top:698.86px;width:110.88px;text-align:right;font-size:10.6px;line-height:14px;color:#333;letter-spacing:0.28px;">0</div>
<div class="a ui" style="left:410.5px;top:698.86px;width:112.78px;text-align:right;font-size:10.6px;line-height:14px;color:#333;letter-spacing:0.28px;">4</div>
<div class="a ui" style="left:184.2px;top:716.17px;font-size:10.6px;line-height:14px;color:#333;letter-spacing:0.45px;font-weight:bold;">Summe</div>
<div class="a ui" style="left:294.4px;top:716.17px;width:111.45px;text-align:right;font-size:10.6px;line-height:14px;color:#333;letter-spacing:0.85px;font-weight:bold;">31</div>
<div class="a ui" style="left:410.5px;top:716.17px;width:113.35px;text-align:right;font-size:10.6px;line-height:14px;color:#333;letter-spacing:0.85px;font-weight:bold;">57</div>
<div class="a" style="left:180.2px;top:732.03px;width:346.8px;height:1px;background:#e4e4e4"></div>
<div class="a" style="left:293.9px;top:484.2px;width:1px;height:247.83px;background:#d2d2d2"></div>
<div class="a" style="left:410.0px;top:484.2px;width:1px;height:247.83px;background:#d2d2d2"></div>
<div class="a" style="left:527.0px;top:506.75px;width:1px;height:225.03px;background:#d6d6d6"></div>
<div class="a" style="left:555.6px;top:483.2px;width:349.8px;height:253.59999999999997px;border:1px solid #c6c6c6;background:#fff"></div>
<div class="a" style="left:556.6px;top:484.2px;width:333.19999999999993px;height:22.55000000000001px;background:#e6e6e6;border-bottom:1px solid #cacaca"></div>
<div class="a" style="left:889.8px;top:484.2px;width:14.600000000000136px;height:22.55000000000001px;background:#fff;border-left:1px solid #d6d6d6;border-bottom:1px solid #cacaca"></div>
<div class="a" style="left:896.5999999999999px;top:491.00px;width:1.6px;height:1.3px;background:#666"></div>
<div class="a" style="left:896.5999999999999px;top:494.30px;width:1.6px;height:1.3px;background:#666"></div>
<div class="a" style="left:896.5999999999999px;top:497.60px;width:1.6px;height:1.3px;background:#666"></div>
<div class="a ui" style="left:555.6px;top:488.2px;width:115.20000000000005px;text-align:center;font-size:10.6px;line-height:14px;color:#333">Monat</div>
<div class="a ui" style="left:670.8000000000001px;top:488.2px;width:116.10000000000002px;text-align:center;font-size:10.6px;line-height:14px;color:#333">2023</div>
<div class="a ui" style="left:786.9000000000001px;top:488.2px;width:118.5px;text-align:center;font-size:10.6px;line-height:14px;color:#333">2022</div>
<div class="a ui" style="left:560.6px;top:508.45px;font-size:10.6px;line-height:14px;color:#333;letter-spacing:0px;">Jan</div>
<div class="a ui" style="left:670.8000000000001px;top:508.45px;width:110.88px;text-align:right;font-size:10.6px;line-height:14px;color:#333;letter-spacing:0.28px;">8.666,01 €</div>
<div class="a ui" style="left:786.9000000000001px;top:508.45px;width:112.78px;text-align:right;font-size:10.6px;line-height:14px;color:#333;letter-spacing:0.28px;">0,00 €</div>
<div class="a" style="left:556.6px;top:524.31px;width:346.8px;height:17.31px;background:#ececec"></div>
<div class="a ui" style="left:560.6px;top:525.76px;font-size:10.6px;line-height:14px;color:#333;letter-spacing:0px;">Feb</div>
<div class="a ui" style="left:670.8000000000001px;top:525.76px;width:110.88px;text-align:right;font-size:10.6px;line-height:14px;color:#333;letter-spacing:0.28px;">9.887,05 €</div>
<div class="a ui" style="left:786.9000000000001px;top:525.76px;width:112.78px;text-align:right;font-size:10.6px;line-height:14px;color:#333;letter-spacing:0.28px;">18.624,77 €</div>
<div class="a ui" style="left:560.6px;top:543.07px;font-size:10.6px;line-height:14px;color:#333;letter-spacing:0px;">Mrz</div>
<div class="a ui" style="left:670.8000000000001px;top:543.07px;width:110.88px;text-align:right;font-size:10.6px;line-height:14px;color:#333;letter-spacing:0.28px;">15.275,74 €</div>
<div class="a ui" style="left:786.9000000000001px;top:543.07px;width:112.78px;text-align:right;font-size:10.6px;line-height:14px;color:#333;letter-spacing:0.28px;">19.437,00 €</div>
<div class="a" style="left:556.6px;top:558.93px;width:346.8px;height:17.31px;background:#ececec"></div>
<div class="a ui" style="left:560.6px;top:560.38px;font-size:10.6px;line-height:14px;color:#333;letter-spacing:0px;">Apr</div>
<div class="a ui" style="left:670.8000000000001px;top:560.38px;width:110.88px;text-align:right;font-size:10.6px;line-height:14px;color:#333;letter-spacing:0.28px;">0,00 €</div>
<div class="a ui" style="left:786.9000000000001px;top:560.38px;width:112.78px;text-align:right;font-size:10.6px;line-height:14px;color:#333;letter-spacing:0.28px;">25.037,25 €</div>
<div class="a ui" style="left:560.6px;top:577.69px;font-size:10.6px;line-height:14px;color:#333;letter-spacing:0px;">Mai</div>
<div class="a ui" style="left:670.8000000000001px;top:577.69px;width:110.88px;text-align:right;font-size:10.6px;line-height:14px;color:#333;letter-spacing:0.28px;">22.102,32 €</div>
<div class="a ui" style="left:786.9000000000001px;top:577.69px;width:112.78px;text-align:right;font-size:10.6px;line-height:14px;color:#333;letter-spacing:0.28px;">39.514,04 €</div>
<div class="a" style="left:556.6px;top:593.55px;width:346.8px;height:17.31px;background:#ececec"></div>
<div class="a ui" style="left:560.6px;top:595.00px;font-size:10.6px;line-height:14px;color:#333;letter-spacing:0px;">Jun</div>
<div class="a ui" style="left:670.8000000000001px;top:595.00px;width:110.88px;text-align:right;font-size:10.6px;line-height:14px;color:#333;letter-spacing:0.28px;">15.298,97 €</div>
<div class="a ui" style="left:786.9000000000001px;top:595.00px;width:112.78px;text-align:right;font-size:10.6px;line-height:14px;color:#333;letter-spacing:0.28px;">22.804,57 €</div>
<div class="a ui" style="left:560.6px;top:612.31px;font-size:10.6px;line-height:14px;color:#333;letter-spacing:0px;">Jul</div>
<div class="a ui" style="left:670.8000000000001px;top:612.31px;width:110.88px;text-align:right;font-size:10.6px;line-height:14px;color:#333;letter-spacing:0.28px;">53.871,18 €</div>
<div class="a ui" style="left:786.9000000000001px;top:612.31px;width:112.78px;text-align:right;font-size:10.6px;line-height:14px;color:#333;letter-spacing:0.28px;">22.066,57 €</div>
<div class="a" style="left:556.6px;top:628.17px;width:346.8px;height:17.31px;background:#ececec"></div>
<div class="a ui" style="left:560.6px;top:629.62px;font-size:10.6px;line-height:14px;color:#333;letter-spacing:0px;">Aug</div>
<div class="a ui" style="left:670.8000000000001px;top:629.62px;width:110.88px;text-align:right;font-size:10.6px;line-height:14px;color:#333;letter-spacing:0.28px;">5.730,40 €</div>
<div class="a ui" style="left:786.9000000000001px;top:629.62px;width:112.78px;text-align:right;font-size:10.6px;line-height:14px;color:#333;letter-spacing:0.28px;">21.386,68 €</div>
<div class="a ui" style="left:560.6px;top:646.93px;font-size:10.6px;line-height:14px;color:#333;letter-spacing:0px;">Sep</div>
<div class="a ui" style="left:670.8000000000001px;top:646.93px;width:110.88px;text-align:right;font-size:10.6px;line-height:14px;color:#333;letter-spacing:0.28px;">0,00 €</div>
<div class="a ui" style="left:786.9000000000001px;top:646.93px;width:112.78px;text-align:right;font-size:10.6px;line-height:14px;color:#333;letter-spacing:0.28px;">0,00 €</div>
<div class="a" style="left:556.6px;top:662.79px;width:346.8px;height:17.31px;background:#ececec"></div>
<div class="a ui" style="left:560.6px;top:664.24px;font-size:10.6px;line-height:14px;color:#333;letter-spacing:0px;">Okt</div>
<div class="a ui" style="left:670.8000000000001px;top:664.24px;width:110.88px;text-align:right;font-size:10.6px;line-height:14px;color:#333;letter-spacing:0.28px;">0,00 €</div>
<div class="a ui" style="left:786.9000000000001px;top:664.24px;width:112.78px;text-align:right;font-size:10.6px;line-height:14px;color:#333;letter-spacing:0.28px;">3.983,12 €</div>
<div class="a ui" style="left:560.6px;top:681.55px;font-size:10.6px;line-height:14px;color:#333;letter-spacing:0px;">Nov</div>
<div class="a ui" style="left:670.8000000000001px;top:681.55px;width:110.88px;text-align:right;font-size:10.6px;line-height:14px;color:#333;letter-spacing:0.28px;">0,00 €</div>
<div class="a ui" style="left:786.9000000000001px;top:681.55px;width:112.78px;text-align:right;font-size:10.6px;line-height:14px;color:#333;letter-spacing:0.28px;">47.217,12 €</div>
<div class="a" style="left:556.6px;top:697.41px;width:346.8px;height:17.31px;background:#ececec"></div>
<div class="a ui" style="left:560.6px;top:698.86px;font-size:10.6px;line-height:14px;color:#333;letter-spacing:0px;">Dez</div>
<div class="a ui" style="left:670.8000000000001px;top:698.86px;width:110.88px;text-align:right;font-size:10.6px;line-height:14px;color:#333;letter-spacing:0.28px;">0,00 €</div>
<div class="a ui" style="left:786.9000000000001px;top:698.86px;width:112.78px;text-align:right;font-size:10.6px;line-height:14px;color:#333;letter-spacing:0.28px;">5.641,21 €</div>
<div class="a ui" style="left:560.6px;top:716.17px;font-size:10.6px;line-height:14px;color:#333;letter-spacing:0.45px;font-weight:bold;">Summe</div>
<div class="a ui" style="left:670.8000000000001px;top:716.17px;width:111.45px;text-align:right;font-size:10.6px;line-height:14px;color:#333;letter-spacing:0.85px;font-weight:bold;">130.831,67 €</div>
<div class="a ui" style="left:786.9000000000001px;top:716.17px;width:113.35px;text-align:right;font-size:10.6px;line-height:14px;color:#333;letter-spacing:0.85px;font-weight:bold;">225.712,33 €</div>
<div class="a" style="left:556.6px;top:732.03px;width:346.8px;height:1px;background:#e4e4e4"></div>
<div class="a" style="left:670.3000000000001px;top:484.2px;width:1px;height:247.83px;background:#d2d2d2"></div>
<div class="a" style="left:786.4000000000001px;top:484.2px;width:1px;height:247.83px;background:#d2d2d2"></div>
<div class="a" style="left:903.4000000000001px;top:506.75px;width:1px;height:225.03px;background:#d6d6d6"></div>
<div class="a" style="left:931.4px;top:483.2px;width:349.8px;height:253.59999999999997px;border:1px solid #c6c6c6;background:#fff"></div>
<div class="a" style="left:932.4px;top:484.2px;width:333.19999999999993px;height:22.55000000000001px;background:#e6e6e6;border-bottom:1px solid #cacaca"></div>
<div class="a" style="left:1265.6px;top:484.2px;width:14.600000000000136px;height:22.55000000000001px;background:#fff;border-left:1px solid #d6d6d6;border-bottom:1px solid #cacaca"></div>
<div class="a" style="left:1272.3999999999999px;top:491.00px;width:1.6px;height:1.3px;background:#666"></div>
<div class="a" style="left:1272.3999999999999px;top:494.30px;width:1.6px;height:1.3px;background:#666"></div>
<div class="a" style="left:1272.3999999999999px;top:497.60px;width:1.6px;height:1.3px;background:#666"></div>
<div class="a ui" style="left:931.4px;top:488.2px;width:115.19999999999993px;text-align:center;font-size:10.6px;line-height:14px;color:#333">Monat</div>
<div class="a ui" style="left:1046.6px;top:488.2px;width:116.10000000000014px;text-align:center;font-size:10.6px;line-height:14px;color:#333">2023</div>
<div class="a ui" style="left:1162.7px;top:488.2px;width:118.5px;text-align:center;font-size:10.6px;line-height:14px;color:#333">2022</div>
<div class="a ui" style="left:936.4px;top:508.45px;font-size:10.6px;line-height:14px;color:#333;letter-spacing:0px;">Jan</div>
<div class="a ui" style="left:1046.6px;top:508.45px;width:110.88px;text-align:right;font-size:10.6px;line-height:14px;color:#333;letter-spacing:0.28px;">8.666,01 €</div>
<div class="a ui" style="left:1162.7px;top:508.45px;width:112.78px;text-align:right;font-size:10.6px;line-height:14px;color:#333;letter-spacing:0.28px;">0,00 €</div>
<div class="a" style="left:932.4px;top:524.31px;width:346.8px;height:17.31px;background:#ececec"></div>
<div class="a ui" style="left:936.4px;top:525.76px;font-size:10.6px;line-height:14px;color:#333;letter-spacing:0px;">Feb</div>
<div class="a ui" style="left:1046.6px;top:525.76px;width:110.88px;text-align:right;font-size:10.6px;line-height:14px;color:#333;letter-spacing:0.28px;">4.943,53 €</div>
<div class="a ui" style="left:1162.7px;top:525.76px;width:112.78px;text-align:right;font-size:10.6px;line-height:14px;color:#333;letter-spacing:0.28px;">0,00 €</div>
<div class="a ui" style="left:936.4px;top:543.07px;font-size:10.6px;line-height:14px;color:#333;letter-spacing:0px;">Mrz</div>
<div class="a ui" style="left:1046.6px;top:543.07px;width:110.88px;text-align:right;font-size:10.6px;line-height:14px;color:#333;letter-spacing:0.28px;">12.018,99 €</div>
<div class="a ui" style="left:1162.7px;top:543.07px;width:112.78px;text-align:right;font-size:10.6px;line-height:14px;color:#333;letter-spacing:0.28px;">11.080,26 €</div>
<div class="a" style="left:932.4px;top:558.93px;width:346.8px;height:17.31px;background:#ececec"></div>
<div class="a ui" style="left:936.4px;top:560.38px;font-size:10.6px;line-height:14px;color:#333;letter-spacing:0px;">Apr</div>
<div class="a ui" style="left:1046.6px;top:560.38px;width:110.88px;text-align:right;font-size:10.6px;line-height:14px;color:#333;letter-spacing:0.28px;">0,00 €</div>
<div class="a ui" style="left:1162.7px;top:560.38px;width:112.78px;text-align:right;font-size:10.6px;line-height:14px;color:#333;letter-spacing:0.28px;">7.821,02 €</div>
<div class="a ui" style="left:936.4px;top:577.69px;font-size:10.6px;line-height:14px;color:#333;letter-spacing:0px;">Mai</div>
<div class="a ui" style="left:1046.6px;top:577.69px;width:110.88px;text-align:right;font-size:10.6px;line-height:14px;color:#333;letter-spacing:0.28px;">6.761,41 €</div>
<div class="a ui" style="left:1162.7px;top:577.69px;width:112.78px;text-align:right;font-size:10.6px;line-height:14px;color:#333;letter-spacing:0.28px;">0,00 €</div>
<div class="a" style="left:932.4px;top:593.55px;width:346.8px;height:17.31px;background:#ececec"></div>
<div class="a ui" style="left:936.4px;top:595.00px;font-size:10.6px;line-height:14px;color:#333;letter-spacing:0px;">Jun</div>
<div class="a ui" style="left:1046.6px;top:595.00px;width:110.88px;text-align:right;font-size:10.6px;line-height:14px;color:#333;letter-spacing:0.28px;">7.714,57 €</div>
<div class="a ui" style="left:1162.7px;top:595.00px;width:112.78px;text-align:right;font-size:10.6px;line-height:14px;color:#333;letter-spacing:0.28px;">12.530,52 €</div>
<div class="a ui" style="left:936.4px;top:612.31px;font-size:10.6px;line-height:14px;color:#333;letter-spacing:0px;">Jul</div>
<div class="a ui" style="left:1046.6px;top:612.31px;width:110.88px;text-align:right;font-size:10.6px;line-height:14px;color:#333;letter-spacing:0.28px;">10.017,04 €</div>
<div class="a ui" style="left:1162.7px;top:612.31px;width:112.78px;text-align:right;font-size:10.6px;line-height:14px;color:#333;letter-spacing:0.28px;">11.552,28 €</div>
<div class="a" style="left:932.4px;top:628.17px;width:346.8px;height:17.31px;background:#ececec"></div>
<div class="a ui" style="left:936.4px;top:629.62px;font-size:10.6px;line-height:14px;color:#333;letter-spacing:0px;">Aug</div>
<div class="a ui" style="left:1046.6px;top:629.62px;width:110.88px;text-align:right;font-size:10.6px;line-height:14px;color:#333;letter-spacing:0.28px;">3.157,21 €</div>
<div class="a ui" style="left:1162.7px;top:629.62px;width:112.78px;text-align:right;font-size:10.6px;line-height:14px;color:#333;letter-spacing:0.28px;">9.413,44 €</div>
<div class="a ui" style="left:936.4px;top:646.93px;font-size:10.6px;line-height:14px;color:#333;letter-spacing:0px;">Sep</div>
<div class="a ui" style="left:1046.6px;top:646.93px;width:110.88px;text-align:right;font-size:10.6px;line-height:14px;color:#333;letter-spacing:0.28px;">0,00 €</div>
<div class="a ui" style="left:1162.7px;top:646.93px;width:112.78px;text-align:right;font-size:10.6px;line-height:14px;color:#333;letter-spacing:0.28px;">0,00 €</div>
<div class="a" style="left:932.4px;top:662.79px;width:346.8px;height:17.31px;background:#ececec"></div>
<div class="a ui" style="left:936.4px;top:664.24px;font-size:10.6px;line-height:14px;color:#333;letter-spacing:0px;">Okt</div>
<div class="a ui" style="left:1046.6px;top:664.24px;width:110.88px;text-align:right;font-size:10.6px;line-height:14px;color:#333;letter-spacing:0.28px;">0,00 €</div>
<div class="a ui" style="left:1162.7px;top:664.24px;width:112.78px;text-align:right;font-size:10.6px;line-height:14px;color:#333;letter-spacing:0.28px;">0,00 €</div>
<div class="a ui" style="left:936.4px;top:681.55px;font-size:10.6px;line-height:14px;color:#333;letter-spacing:0px;">Nov</div>
<div class="a ui" style="left:1046.6px;top:681.55px;width:110.88px;text-align:right;font-size:10.6px;line-height:14px;color:#333;letter-spacing:0.28px;">0,00 €</div>
<div class="a ui" style="left:1162.7px;top:681.55px;width:112.78px;text-align:right;font-size:10.6px;line-height:14px;color:#333;letter-spacing:0.28px;">22.230,55 €</div>
<div class="a" style="left:932.4px;top:697.41px;width:346.8px;height:17.31px;background:#ececec"></div>
<div class="a ui" style="left:936.4px;top:698.86px;font-size:10.6px;line-height:14px;color:#333;letter-spacing:0px;">Dez</div>
<div class="a ui" style="left:1046.6px;top:698.86px;width:110.88px;text-align:right;font-size:10.6px;line-height:14px;color:#333;letter-spacing:0.28px;">0,00 €</div>
<div class="a ui" style="left:1162.7px;top:698.86px;width:112.78px;text-align:right;font-size:10.6px;line-height:14px;color:#333;letter-spacing:0.28px;">5.641,21 €</div>
<div class="a ui" style="left:936.4px;top:716.17px;font-size:10.6px;line-height:14px;color:#333;letter-spacing:0.45px;font-weight:bold;">Summe</div>
<div class="a ui" style="left:1046.6px;top:716.17px;width:111.45px;text-align:right;font-size:10.6px;line-height:14px;color:#333;letter-spacing:0.85px;font-weight:bold;">53.278,76 €</div>
<div class="a ui" style="left:1162.7px;top:716.17px;width:113.35px;text-align:right;font-size:10.6px;line-height:14px;color:#333;letter-spacing:0.85px;font-weight:bold;">80.269,28 €</div>
<div class="a" style="left:932.4px;top:732.03px;width:346.8px;height:1px;background:#e4e4e4"></div>
<div class="a" style="left:1046.1px;top:484.2px;width:1px;height:247.83px;background:#d2d2d2"></div>
<div class="a" style="left:1162.2px;top:484.2px;width:1px;height:247.83px;background:#d2d2d2"></div>
<div class="a" style="left:1279.2px;top:506.75px;width:1px;height:225.03px;background:#d6d6d6"></div>
<div class="a" style="left:0;top:753px;width:1px;height:33px;background:#f0f0f0"></div>
<svg class="a" style="left:21px;top:762px" width="16" height="16" viewBox="0 0 16 16">
<ellipse cx="8" cy="14.5" rx="6" ry="1.2" fill="#dde3e6"/>
<path d="M1.5 3.2L9.5 1.2L14.3 10.2L2.2 13.8Z" fill="#ec7a2c"/>
<path d="M4.3 2.5L5.6 13M7.3 1.8L9.5 11.6M2 6.5L11 4.2M2.1 10L12.5 7.3" stroke="#f6b583" stroke-width="0.7" fill="none"/>
</svg>
<div class="a" style="left:47.7px;top:764px;font-size:10.6px;line-height:14px;color:#222;font-weight:bold">CMC Portal</div>
<svg class="a" style="left:125px;top:767px" width="8" height="6" viewBox="0 0 8 6"><path d="M0.7 5L4 1.3L7.3 5" fill="none" stroke="#333" stroke-width="1.3"/></svg>
<div class="a" style="left:1225.4px;top:757.9px;width:72px;height:24.2px;background:#df902d;border-radius:0 0 0 4px"></div>
<div class="a" style="left:1247px;top:760.5px;width:41px;text-align:center;font-size:13.6px;line-height:15px;color:#fff;-webkit-text-stroke:0.35px #fff;letter-spacing:-0.2px">CMC</div>
<div class="a" style="left:1246px;top:774.9px;width:43px;text-align:center;font-size:4.2px;line-height:4px;color:#fff;font-weight:bold;letter-spacing:1.25px;padding-left:1px">NETWORK</div>
</body></html>
